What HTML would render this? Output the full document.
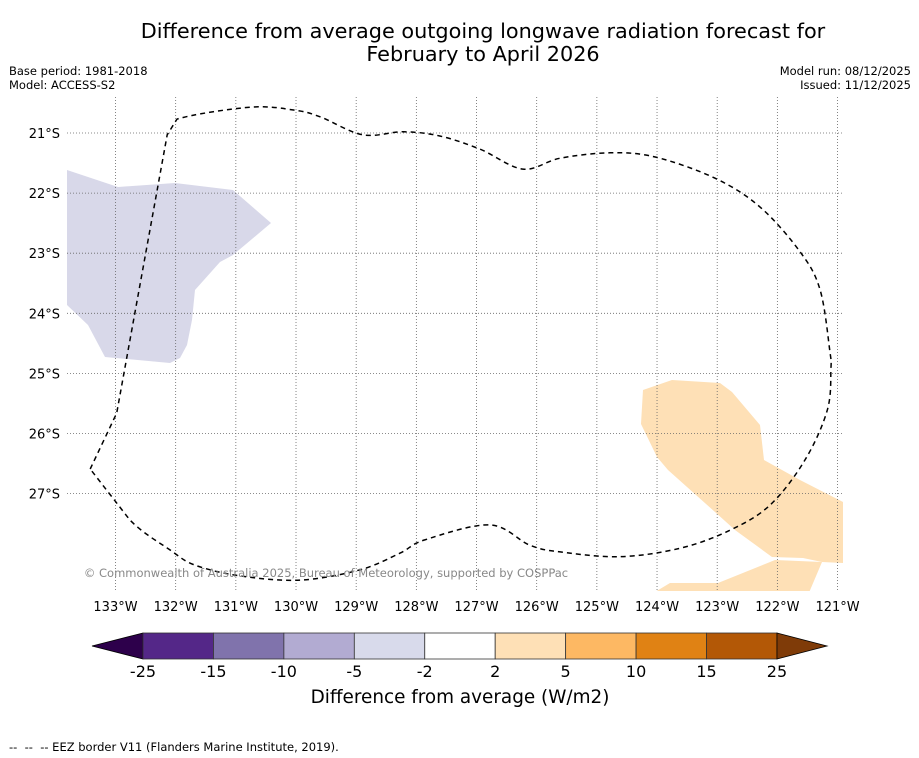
<!DOCTYPE html>
<html><head><meta charset="utf-8"><style>
body{margin:0;background:#fff;width:919px;height:758px;overflow:hidden;font-family:"Liberation Sans","DejaVu Sans",sans-serif}
svg{position:absolute;left:0;top:0}
</style></head><body>
<svg width="919" height="758" viewBox="0 0 919 758">
<text x="483" y="38" font-size="20.8" text-anchor="middle" font-family="DejaVu Sans,Liberation Sans,sans-serif">Difference from average outgoing longwave radiation forecast for</text>
<text x="483" y="61" font-size="20.8" text-anchor="middle" font-family="DejaVu Sans,Liberation Sans,sans-serif">February to April 2026</text>
<g font-size="11.5" font-family="DejaVu Sans,Liberation Sans,sans-serif">
<text x="9" y="75">Base period: 1981-2018</text>
<text x="9" y="89">Model: ACCESS-S2</text>
<text x="911" y="75" text-anchor="end">Model run: 08/12/2025</text>
<text x="911" y="89" text-anchor="end">Issued: 11/12/2025</text>
</g>
<defs><clipPath id="mc"><rect x="67" y="97" width="776" height="494"/></clipPath></defs>
<g clip-path="url(#mc)">
<polygon fill="#d8d8e9" points="67,170 118,187 175,183 233,190 271,223 233,255 220,262 195,290 192,320 187,345 180,358 170,363 105,357 88,325 67,305"/>
<polygon fill="#fee0b6" points="643,390 672,380 720,383 732,392 760,425 764,460 800,480 843,502 843,563 822,562 803,558 772,557 735,530 715,512 668,470 657,457 641,424"/>
<polygon fill="#fee0b6" points="650,595 670,583 718,583 775,560 822,562 808,595"/>
<g id="grid" stroke="#666" stroke-width="0.8" stroke-dasharray="1,2" fill="none"></g>
<path id="eez" fill="none" stroke="#000" stroke-width="1.5" stroke-dasharray="5,4"/>
</g>
<g id="xt" font-size="13" text-anchor="middle" font-family="DejaVu Sans,Liberation Sans,sans-serif"></g>
<g id="yt" font-size="13" text-anchor="end" font-family="DejaVu Sans,Liberation Sans,sans-serif"></g>
<text x="326" y="577" font-size="11.5" fill="#888" text-anchor="middle" font-family="DejaVu Sans,Liberation Sans,sans-serif">© Commonwealth of Australia 2025, Bureau of Meteorology, supported by COSPPac</text>
<g id="cb"></g>
<text x="460" y="703" font-size="18.4" text-anchor="middle" font-family="DejaVu Sans,Liberation Sans,sans-serif">Difference from average (W/m2)</text>
<text x="9" y="751" font-size="11.5" xml:space="preserve" font-family="DejaVu Sans,Liberation Sans,sans-serif">--  --  -- EEZ border V11 (Flanders Marine Institute, 2019).</text>
</svg>
<script>
const lonTicks=[133,132,131,130,129,128,127,126,125,124,123,122,121];
const latTicks=[21,22,23,24,25,26,27];
const eezLon=[133.42,132.98,132.14,131.98,130.76,130.02,129.60,128.89,128.22,127.61,126.94,126.23,125.61,124.78,124.03,123.04,122.29,121.62,121.29,121.13,121.11,121.17,121.54,122.12,122.79,123.62,124.62,125.61,126.11,126.78,127.86,128.27,128.94,129.93,130.93,131.68,132.09,132.76];
const eezLat=[26.59,25.66,21.03,20.77,20.57,20.62,20.73,21.03,20.98,21.05,21.27,21.60,21.42,21.33,21.40,21.75,22.23,22.98,23.61,24.61,24.94,25.61,26.44,27.19,27.61,27.91,28.05,27.97,27.86,27.52,27.77,27.99,28.27,28.44,28.37,28.19,27.94,27.44];
const cbLabels=["-25","-15","-10","-5","-2","2","5","10","15","25"];
const cbColors=["#542788","#8073ac","#b2abd2","#d8daeb","#ffffff","#fee0b6","#fdb863","#e08214","#b35806"];
const X=l=>115.5+(133-l)*60.17, Y=l=>133+(l-21)*60.1;
const ns="http://www.w3.org/2000/svg";
function mk(t,a,p){const e=document.createElementNS(ns,t);for(const k in a)e.setAttribute(k,a[k]);p.appendChild(e);return e;}
const g=document.getElementById('grid'),xt=document.getElementById('xt'),yt=document.getElementById('yt');
lonTicks.forEach(l=>{const e=mk('line',{x1:X(l),x2:X(l),y1:97,y2:591},g);


const t=mk('text',{x:X(l),y:611},xt);t.textContent=l+'°W';

});
latTicks.forEach(l=>{const e=mk('line',{x1:67,x2:843,y1:Y(l),y2:Y(l)},g);


const t=mk('text',{x:60,y:Y(l)+5},yt);t.textContent=l+'°S';

});
const P=eezLon.map((l,i)=>[X(l),Y(eezLat[i])]);const n=P.length;
let d='M'+P[0][0].toFixed(1)+','+P[0][1].toFixed(1);
for(let i=0;i<n;i++){const p0=P[(i-1+n)%n],p1=P[i],p2=P[(i+1)%n],p3=P[(i+2)%n];
 const k=(i<=2||i==n-1)?0:1/6;
 const c1=[p1[0]+(p2[0]-p0[0])*k,p1[1]+(p2[1]-p0[1])*k],c2=[p2[0]-(p3[0]-p1[0])*k,p2[1]-(p3[1]-p1[1])*k];
 d+='C'+c1.map(v=>v.toFixed(1))+' '+c2.map(v=>v.toFixed(1))+' '+p2.map(v=>v.toFixed(1));}
document.getElementById('eez').setAttribute('d',d+'Z');
const cb=document.getElementById('cb');const x0=143,w=70.44,y0=633,h=26;
const lt=mk('polygon',{points:`${x0},${y0} 92,${y0+h/2} ${x0},${y0+h}`,fill:'#2d004b',stroke:'#000','stroke-width':0.8},cb);


cbColors.forEach((c,i)=>{const r=mk('rect',{x:x0+i*w,y:y0,width:w,height:h,fill:c,stroke:'#333','stroke-width':0.8},cb);

});
const xe=x0+cbColors.length*w;
const rt=mk('polygon',{points:`${xe},${y0} 827,${y0+h/2} ${xe},${y0+h}`,fill:'#7f3b08',stroke:'#000','stroke-width':0.8},cb);


cbLabels.forEach((s,i)=>{const t=mk('text',{x:x0+i*w,y:677,'font-size':16,'text-anchor':'middle','font-family':'DejaVu Sans,Liberation Sans,sans-serif'},cb);t.textContent=s;

});
</script>
</body></html>
